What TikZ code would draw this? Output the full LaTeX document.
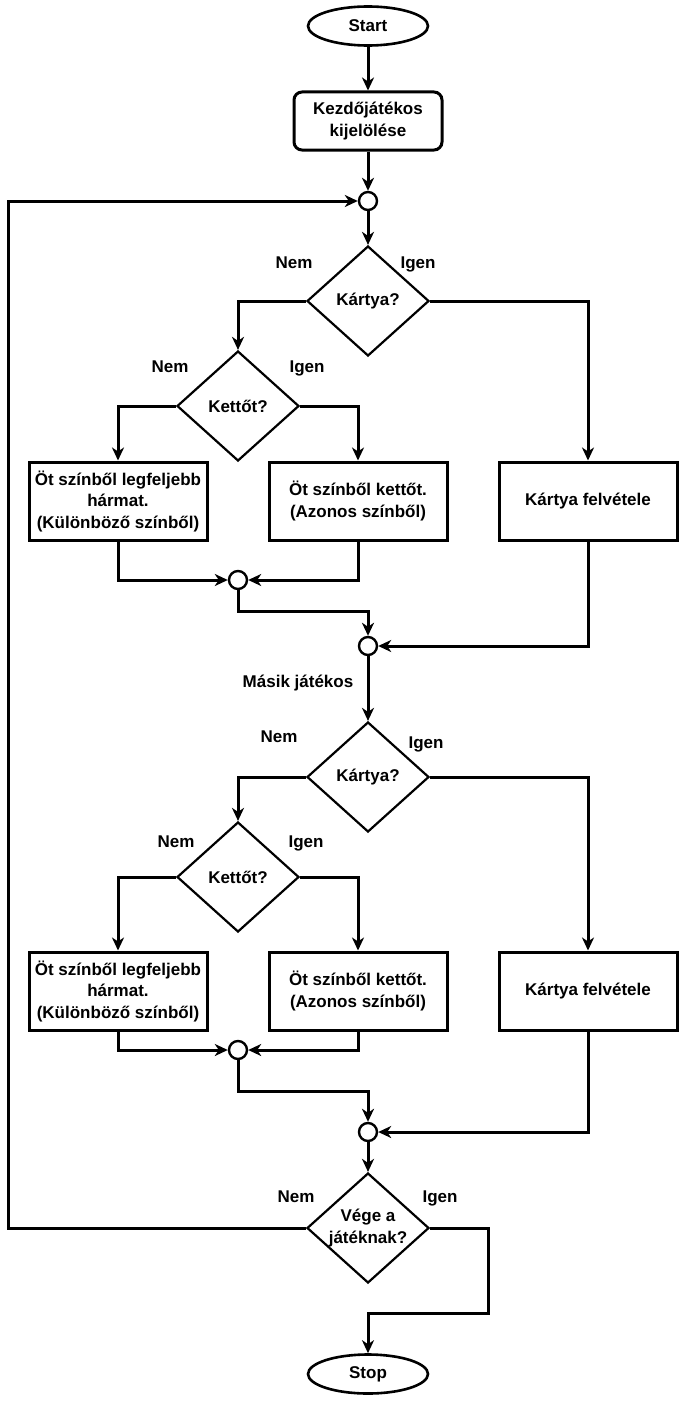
\documentclass[tikz,border=0pt]{standalone}
\usepackage{fontspec}
\setmainfont{Liberation Sans}
\usetikzlibrary{arrows.meta,shapes.geometric}
\begin{document}
\begin{tikzpicture}[x=1pt, y=-1pt,
    base/.style={font=\fontsize{17}{21.5}\selectfont\bfseries},
    term/.style={base, draw, ellipse, line width=2.6pt, minimum width=120pt, minimum height=39pt, inner sep=0pt},
    init/.style={base, draw, rounded corners=8pt, line width=3pt, minimum width=148pt, minimum height=58pt, align=center, inner sep=0pt},
    box/.style={base, draw, line width=3pt, minimum width=178pt, minimum height=78pt, align=center, inner sep=0pt},
    decide/.style={base, draw, diamond, shape aspect=1.1, line width=2.2pt, minimum width=122pt, minimum height=110pt, align=center, inner sep=0pt},
    junc/.style={draw, circle, line width=2.4pt, minimum size=18pt, inner sep=0pt},
    tag/.style={base, inner sep=0pt, text depth=0pt},
    flow/.style={line width=3pt, -{Stealth[length=13pt, width=12pt, inset=4pt]}}]
    \useasboundingbox (0,0) rectangle (680,1410);

    \node[term] (start) at (368,26) {Start};
    \node[init] (init) at (368,121) {Kezdőjátékos\\kijelölése};
    \node[junc] (j1) at (368,201) {};

    % first player
    \node[decide] (card1) at (368,301) {Kártya?};
    \node[decide] (two1) at (238,406) {Kettőt?};
    \node[box] (three1) at (118,501) {Öt színből legfeljebb\\hármat.\\(Különböző színből)};
    \node[box] (pair1) at (358,501) {Öt színből kettőt.\\(Azonos színből)};
    \node[box] (take1) at (588,501) {Kártya felvétele};
    \node[junc] (m1) at (238,580) {};
    \node[junc] (j2) at (368,646) {};
    \node[tag] (no1) at (294,263) {Nem};
    \node[tag] (yes1) at (418,263) {Igen};
    \node[tag] (no2) at (170,367) {Nem};
    \node[tag] (yes2) at (307,367) {Igen};
    \node[tag] (other) at (298,681) {Másik játékos};

    % other player
    \node[decide] (card2) at (368,777) {Kártya?};
    \node[decide] (two2) at (238,877) {Kettőt?};
    \node[box] (three2) at (118,991) {Öt színből legfeljebb\\hármat.\\(Különböző színből)};
    \node[box] (pair2) at (358,991) {Öt színből kettőt.\\(Azonos színből)};
    \node[box] (take2) at (588,991) {Kártya felvétele};
    \node[junc] (m2) at (238,1050) {};
    \node[junc] (j3) at (368,1132) {};
    \node[tag] (no3) at (279,737) {Nem};
    \node[tag] (yes3) at (426,743) {Igen};
    \node[tag] (no4) at (176,842) {Nem};
    \node[tag] (yes4) at (306,842) {Igen};

    \node[decide] (done) at (368,1228) {Vége a\\játéknak?};
    \node[tag] (no5) at (296,1197) {Nem};
    \node[tag] (yes5) at (440,1197) {Igen};
    \node[term] (stop) at (368,1374) {Stop};

    \coordinate (back) at (8,201);
    \coordinate (out) at (488,1313);

    \draw[flow] (start) -- (init);
    \draw[flow] (init) -- (j1);
    \draw[flow] (j1) -- (card1);
    \draw[flow] (card1.west) -| (two1.north);
    \draw[flow] (card1.east) -| (take1.north);
    \draw[flow] (two1.west) -| (three1.north);
    \draw[flow] (two1.east) -| (pair1.north);
    \draw[flow] (three1.south) |- (m1.west);
    \draw[flow] (pair1.south) |- (m1.east);
    \draw[flow] (m1.south) -- (238,611) -| (j2.north);
    \draw[flow] (take1.south) |- (j2.east);
    \draw[flow] (j2) -- (card2);

    \draw[flow] (card2.west) -| (two2.north);
    \draw[flow] (card2.east) -| (take2.north);
    \draw[flow] (two2.west) -| (three2.north);
    \draw[flow] (two2.east) -| (pair2.north);
    \draw[flow] (three2.south) |- (m2.west);
    \draw[flow] (pair2.south) |- (m2.east);
    \draw[flow] (m2.south) -- (238,1091) -| (j3.north);
    \draw[flow] (take2.south) |- (j3.east);
    \draw[flow] (j3) -- (done);

    \draw[flow] (done.west) -| (back) -- (j1.west);
    \draw[flow] (done.east) -| (out) -| (stop.north);
\end{tikzpicture}
\end{document}
